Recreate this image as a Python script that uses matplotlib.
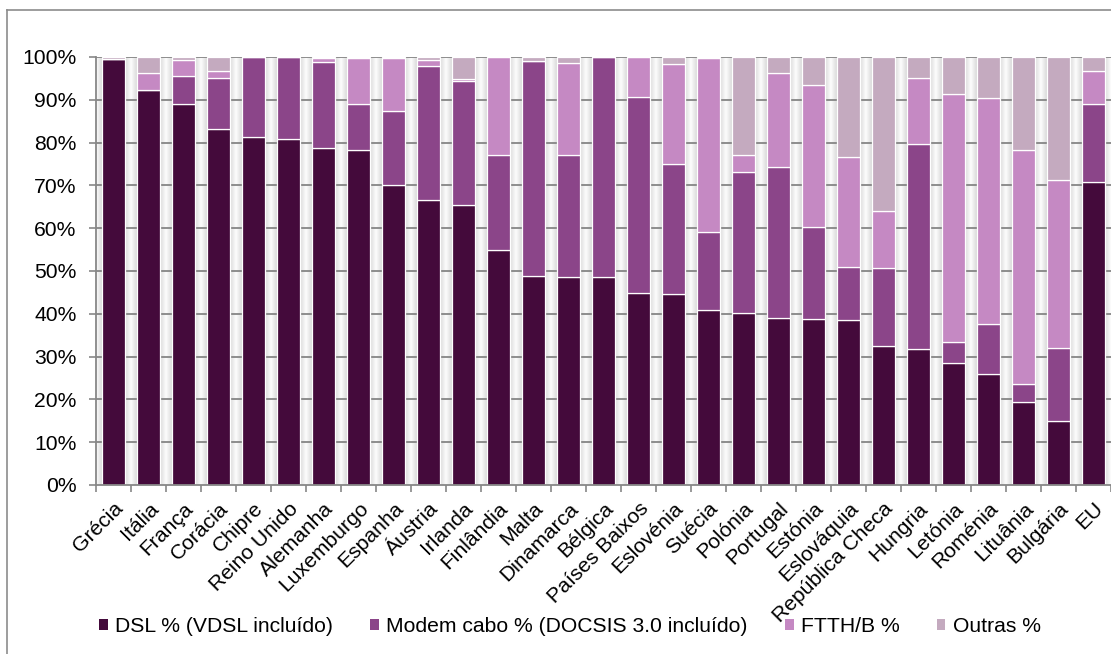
import matplotlib
matplotlib.use("Agg")
import matplotlib.pyplot as plt
import numpy as np
from matplotlib.patches import Patch
from matplotlib.lines import Line2D

plt.rcParams['font.family'] = ['Liberation Sans', 'DejaVu Sans']

categories = ["Grécia", "Itália", "França", "Corácia", "Chipre", "Reino Unido", "Alemanha",
              "Luxemburgo", "Espanha", "Áustria", "Irlanda", "Finlândia", "Malta", "Dinamarca",
              "Bélgica", "Países Baixos", "Eslovénia", "Suécia", "Polónia", "Portugal", "Estónia",
              "Eslováquia", "República Checa", "Hungria", "Letónia", "Roménia", "Lituânia",
              "Bulgária", "EU"]

dsl =   [99.6, 92.4, 89.0, 83.2, 81.2, 80.8, 78.8, 78.3, 70.2, 66.5, 65.5, 54.8, 48.8, 48.7,
         48.5, 44.9, 44.7, 41.0, 40.3, 39.0, 38.9, 38.5, 32.4, 31.7, 28.6, 26.0, 19.4, 15.0, 70.7]
cabo =  [0.0, 0.0, 6.5, 12.0, 18.8, 19.2, 20.0, 10.8, 17.2, 31.5, 29.0, 22.3, 50.2, 28.3,
         51.5, 45.7, 30.4, 18.2, 32.9, 35.4, 21.4, 12.5, 18.4, 47.9, 4.8, 11.6, 4.2, 17.0, 18.4]
ftth =  [0.0, 3.9, 3.8, 1.6, 0.0, 0.0, 0.9, 10.7, 12.3, 1.3, 0.3, 22.8, 0.0, 21.5,
         0.0, 9.4, 23.3, 40.5, 4.0, 21.8, 33.1, 25.6, 13.2, 15.4, 58.0, 52.8, 54.6, 39.2, 7.7]
outras = [0.4, 3.7, 0.7, 3.2, 0.0, 0.0, 0.3, 0.2, 0.3, 0.7, 5.2, 0.1, 1.0, 1.5,
          0.0, 0.0, 1.6, 0.3, 22.8, 3.8, 6.6, 23.4, 36.0, 5.0, 8.6, 9.6, 21.8, 28.8, 3.2]

series_names = ["DSL % (VDSL incluído)", "Modem cabo % (DOCSIS 3.0 incluído)", "FTTH/B %", "Outras %"]
colors = ["#440a3b", "#8b4589", "#c589c3", "#c4aabf"]
yticks = [0, 10, 20, 30, 40, 50, 60, 70, 80, 90, 100]

W, H = 1111, 654
FS = 15.2
fig = plt.figure(figsize=(W / 100, H / 100), dpi=100)
ax = fig.add_axes([96 / W, 1 - 485 / H, 1 - 96 / W, (485 - 57) / H])

n = len(categories)
x = np.arange(n)
ax.set_xlim(-0.5, n - 0.5)
ax.set_ylim(0, 100)

# background gradient stripes
bw = 0.63
xs = np.linspace(-0.5, n - 0.5, 4000)
d = (xs + 0.5) % 1.0
d = np.minimum(d, 1 - d)
g = np.clip(d / ((1 - bw) / 2), 0, 1)
lvl = 0.99 - 0.15 * g
img = np.tile(lvl, (2, 1))
ax.imshow(img, cmap='gray', vmin=0, vmax=1, extent=(-0.5, n - 0.5, 0, 100),
          aspect='auto', zorder=0, interpolation='bilinear')

for yv in yticks[1:]:
    ax.axhline(yv, color="#858585", lw=1.3, zorder=1)

bottom = np.zeros(n)
for vals, c in zip([dsl, cabo, ftth, outras], colors):
    v = np.array(vals)
    ax.bar(x, v, bottom=bottom, width=bw, color=c, edgecolor="white", linewidth=0.9, zorder=2)
    bottom += v

ax.set_yticks(yticks)
ax.set_yticklabels([f"{v}%" for v in yticks], fontsize=FS)
ax.set_xticks(x)
ax.set_xticklabels(categories, rotation=45, ha='right', va='top', rotation_mode='anchor', fontsize=FS)
ax.tick_params(axis='x', which='major', length=0, pad=10)
ax.set_xticks(np.arange(-0.5, n, 1.0), minor=True)
ax.tick_params(axis='x', which='minor', length=5, width=1.2, color="#878787")
ax.tick_params(axis='y', length=5, width=1.2, color="#878787", pad=9)

for s in ['top', 'right']:
    ax.spines[s].set_visible(False)
for s in ['left', 'bottom']:
    ax.spines[s].set_color("#878787")
    ax.spines[s].set_linewidth(1.3)

handles = [Patch(facecolor=c, edgecolor='none') for c in colors]
fig.legend(handles, series_names, loc='center', bbox_to_anchor=(0.513, 1 - 627 / H), ncol=4,
           frameon=False, fontsize=FS, handlelength=0.42, handleheight=0.42,
           handletextpad=0.35, columnspacing=1.75)

# outer frame
fig.add_artist(Line2D([7 / W, 1.0], [1 - 10 / H, 1 - 10 / H], color="#8c8c8c", lw=1.2,
                      transform=fig.transFigure))
fig.add_artist(Line2D([7 / W, 7 / W], [0, 1 - 10 / H], color="#8c8c8c", lw=1.2,
                      transform=fig.transFigure))

fig.savefig("out.png", dpi=100)
